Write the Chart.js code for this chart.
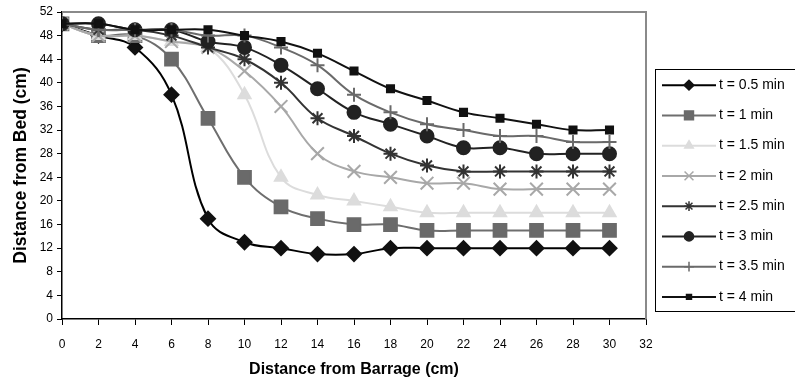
<!DOCTYPE html>
<html>
<head>
<meta charset="utf-8">
<script src="https://cdn.jsdelivr.net/npm/chart.js@4/dist/chart.umd.min.js"></script>
<style>
  html, body { margin: 0; padding: 0; background: #fff; }
  #wrap { width: 795px; height: 383px; position: relative; }
</style>
</head>
<body>
<div id="wrap"><canvas id="chart"></canvas></div>
<script>
// distance from barrage (cm)
const distances = [0, 2, 4, 6, 8, 10, 12, 14, 16, 18, 20, 22, 24, 26, 28, 30];

// distance from bed (cm) for each time
const t05 = [50, 48, 46, 38, 17, 13, 12, 11, 11, 12, 12, 12, 12, 12, 12, 12];
const t10 = [50, 48, 48, 44, 34, 24, 19, 17, 16, 16, 15, 15, 15, 15, 15, 15];
const t15 = [50, 48, 48, 47, 46, 38, 24, 21, 20, 19, 18, 18, 18, 18, 18, 18];
const t20 = [50, 48, 48, 47, 46, 42, 36, 28, 25, 24, 23, 23, 22, 22, 22, 22];
const t25 = [50, 49, 49, 48, 46, 44, 40, 34, 31, 28, 26, 25, 25, 25, 25, 25];
const t30 = [50, 50, 49, 49, 47, 46, 43, 39, 35, 33, 31, 29, 29, 28, 28, 28];
const t35 = [50, 49, 49, 49, 48, 48, 46, 43, 38, 35, 33, 32, 31, 31, 30, 30];
const t40 = [50, 50, 49, 49, 49, 48, 47, 45, 42, 39, 37, 35, 34, 33, 32, 32];

const seriesNames = ['t = 0.5 min', 't = 1 min', 't = 1.5 min', 't = 2 min',
                     't = 2.5 min', 't = 3 min', 't = 3.5 min', 't = 4 min'];
const seriesValues = [t05, t10, t15, t20, t25, t30, t35, t40];

const yTicks = { min: 0, max: 52, step: 4 };
const xTicks = { min: 0, max: 32, step: 2 };

const STYLES = [
  { color: '#000000', fill: '#111111', point: 'rectRot',  radius: 7 },
  { color: '#6e6e6e', fill: '#6a6a6a', point: 'rect',     radius: 9 },
  { color: '#dcdcdc', fill: '#dcdcdc', point: 'triangle', radius: 7 },
  { color: '#a8a8a8', fill: '#a8a8a8', point: 'crossRot', radius: 9 },
  { color: '#333333', fill: '#333333', point: 'star',     radius: 7 },
  { color: '#222222', fill: '#222222', point: 'circle',   radius: 6.5 },
  { color: '#6a6a6a', fill: '#6a6a6a', point: 'cross',    radius: 7 },
  { color: '#111111', fill: '#111111', point: 'rect',     radius: 5 },
];

const FONT = '"Liberation Sans", Arial, sans-serif';

const datasets = seriesValues.map((vals, i) => ({
  label: seriesNames[i],
  data: vals.map((v, j) => ({ x: distances[j], y: v })),
  borderColor: STYLES[i].color,
  backgroundColor: STYLES[i].fill,
  pointBorderColor: STYLES[i].fill,
  pointBackgroundColor: STYLES[i].fill,
  pointStyle: STYLES[i].point,
  pointRadius: STYLES[i].radius,
  pointBorderWidth: 2,
  borderWidth: 2,
  tension: 0.4,
  order: seriesValues.length - 1 - i,
}));

// grey frame on top and right of the plot area
const framePlugin = {
  id: 'frame',
  beforeDatasetsDraw(chart) {
    const { ctx, chartArea: a } = chart;
    ctx.save();
    ctx.strokeStyle = '#8a8a8a';
    ctx.lineWidth = 2;
    ctx.beginPath();
    ctx.moveTo(a.left, a.top);
    ctx.lineTo(a.right, a.top);
    ctx.lineTo(a.right, a.bottom);
    ctx.stroke();
    ctx.restore();
  }
};

// boxed legend with line + marker samples
const legendPlugin = {
  id: 'boxLegend',
  afterDraw(chart) {
    const { ctx, chartArea: a } = chart;
    const boxL = a.right + 9, boxT = 69, boxB = 311;
    ctx.save();
    ctx.strokeStyle = '#000';
    ctx.lineWidth = 1;
    ctx.strokeRect(boxL + 0.5, boxT + 0.5, chart.width, boxB - boxT);
    const rowH = (boxB - boxT) / chart.data.datasets.length;
    chart.data.datasets.forEach((ds, i) => {
      const y = boxT + rowH * (i + 0.5) + 1;
      const x0 = boxL + 7, x1 = boxL + 61, xm = (x0 + x1) / 2;
      ctx.strokeStyle = ds.borderColor;
      ctx.lineWidth = 2;
      ctx.beginPath();
      ctx.moveTo(x0, y);
      ctx.lineTo(x1, y);
      ctx.stroke();
      ctx.fillStyle = ds.pointBackgroundColor;
      ctx.strokeStyle = ds.pointBorderColor;
      ctx.lineWidth = 1.5;
      Chart.helpers.drawPoint(ctx, {
        pointStyle: ds.pointStyle, rotation: 0,
        radius: ds.pointRadius * 0.7, borderWidth: 1.5
      }, xm, y);
      ctx.fillStyle = '#000';
      ctx.font = '14px ' + FONT;
      ctx.textAlign = 'left';
      ctx.textBaseline = 'middle';
      ctx.fillText(ds.label, x1 + 3, y);
    });
    ctx.restore();
  }
};

new Chart(document.getElementById('chart'), {
  type: 'line',
  data: { datasets },
  plugins: [framePlugin, legendPlugin],
  options: {
    responsive: true,
    maintainAspectRatio: false,
    animation: false,
    layout: { padding: { top: 12, right: 149, left: 0, bottom: 0 } },
    plugins: {
      legend: { display: false },
      tooltip: { enabled: false },
    },
    scales: {
      x: {
        type: 'linear',
        min: xTicks.min,
        max: xTicks.max,
        ticks: { stepSize: xTicks.step, color: '#000', padding: 12, maxRotation: 0,
                 font: { family: FONT, size: 12 } },
        grid: { drawOnChartArea: false, drawTicks: true, tickLength: 6, color: '#000' },
        border: { color: '#000', width: 1.5 },
        title: { display: true, text: 'Distance from Barrage (cm)', color: '#000',
                 font: { family: FONT, size: 16, weight: 'bold' }, padding: { top: 0, bottom: 4 } },
        afterFit(scale) { scale.height = 64; },
      },
      y: {
        min: yTicks.min,
        max: yTicks.max,
        ticks: { stepSize: yTicks.step, color: '#000', padding: 4,
                 font: { family: FONT, size: 12 } },
        grid: { drawOnChartArea: false, drawTicks: true, tickLength: 5, color: '#000' },
        border: { color: '#000', width: 1.5 },
        title: { display: true, text: 'Distance from Bed (cm)', color: '#000',
                 font: { family: FONT, size: 17.5, weight: 'bold' }, padding: { top: 11, bottom: 0 } },
        afterFit(scale) { scale.width = 62; },
      },
    },
  },
});
</script>
</body>
</html>
